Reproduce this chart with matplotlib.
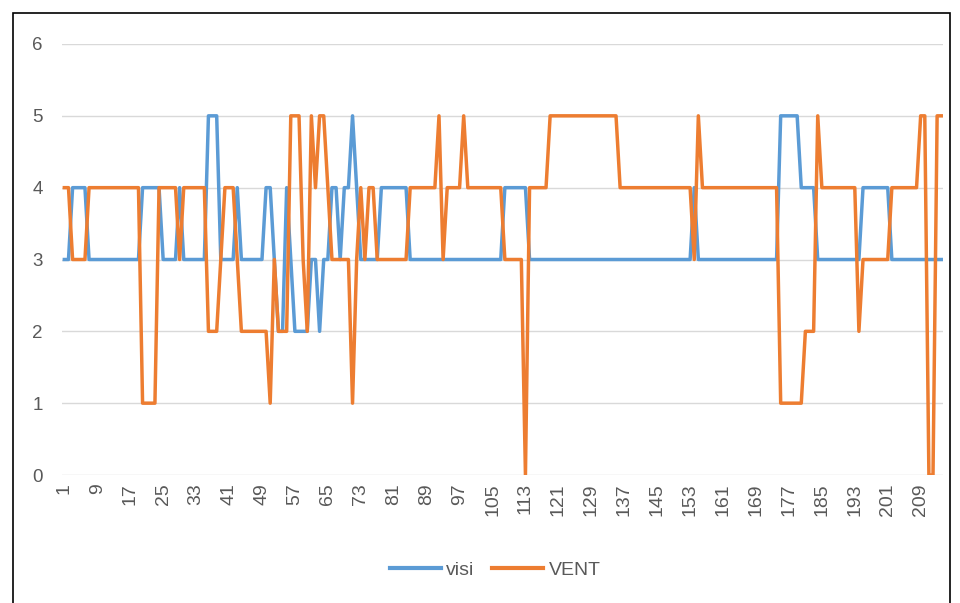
import matplotlib.pyplot as plt
from matplotlib.patches import Rectangle

visi = [3, 3, 4, 4, 4, 4, 3, 3, 3, 3,
        3, 3, 3, 3, 3, 3, 3, 3, 3, 4,
        4, 4, 4, 4, 3, 3, 3, 3, 4, 3,
        3, 3, 3, 3, 3, 5, 5, 5, 3, 3,
        3, 3, 4, 3, 3, 3, 3, 3, 3, 4,
        4, 3, 2, 2, 4, 3, 2, 2, 2, 2,
        3, 3, 2, 3, 3, 4, 4, 3, 4, 4,
        5, 4, 3, 3, 3, 3, 3, 4, 4, 4,
        4, 4, 4, 4, 3, 3, 3, 3, 3, 3,
        3, 3, 3, 3, 3, 3, 3, 3, 3, 3,
        3, 3, 3, 3, 3, 3, 3, 4, 4, 4,
        4, 4, 4, 3, 3, 3, 3, 3, 3, 3,
        3, 3, 3, 3, 3, 3, 3, 3, 3, 3,
        3, 3, 3, 3, 3, 3, 3, 3, 3, 3,
        3, 3, 3, 3, 3, 3, 3, 3, 3, 3,
        3, 3, 3, 4, 3, 3, 3, 3, 3, 3,
        3, 3, 3, 3, 3, 3, 3, 3, 3, 3,
        3, 3, 3, 3, 5, 5, 5, 5, 5, 4,
        4, 4, 4, 3, 3, 3, 3, 3, 3, 3,
        3, 3, 3, 3, 4, 4, 4, 4, 4, 4,
        4, 3, 3, 3, 3, 3, 3, 3, 3, 3,
        3, 3, 3, 3]

vent = [4, 4, 3, 3, 3, 3, 4, 4, 4, 4,
        4, 4, 4, 4, 4, 4, 4, 4, 4, 1,
        1, 1, 1, 4, 4, 4, 4, 4, 3, 4,
        4, 4, 4, 4, 4, 2, 2, 2, 3, 4,
        4, 4, 3, 2, 2, 2, 2, 2, 2, 2,
        1, 3, 2, 2, 2, 5, 5, 5, 3, 2,
        5, 4, 5, 5, 4, 3, 3, 3, 3, 3,
        1, 3, 4, 3, 4, 4, 3, 3, 3, 3,
        3, 3, 3, 3, 4, 4, 4, 4, 4, 4,
        4, 5, 3, 4, 4, 4, 4, 5, 4, 4,
        4, 4, 4, 4, 4, 4, 4, 3, 3, 3,
        3, 3, 0, 4, 4, 4, 4, 4, 5, 5,
        5, 5, 5, 5, 5, 5, 5, 5, 5, 5,
        5, 5, 5, 5, 5, 4, 4, 4, 4, 4,
        4, 4, 4, 4, 4, 4, 4, 4, 4, 4,
        4, 4, 4, 3, 5, 4, 4, 4, 4, 4,
        4, 4, 4, 4, 4, 4, 4, 4, 4, 4,
        4, 4, 4, 4, 1, 1, 1, 1, 1, 1,
        2, 2, 2, 5, 4, 4, 4, 4, 4, 4,
        4, 4, 4, 2, 3, 3, 3, 3, 3, 3,
        3, 4, 4, 4, 4, 4, 4, 4, 5, 5,
        0, 0, 5, 5]

x = list(range(1, len(visi) + 1))
tick_pos = list(range(1, len(visi) + 1, 8))
tick_labels = [str(t) for t in tick_pos]

plt.rcParams['font.family'] = ['Liberation Sans', 'DejaVu Sans']

fig = plt.figure(figsize=(9.6, 6.03), dpi=100)
ax = fig.add_axes([62.3 / 960, 1 - 475 / 603, 881 / 960, 431 / 603])

ax.plot(x, visi, color='#5B9BD5', linewidth=2.5, label='visi', solid_joinstyle='round')
ax.plot(x, vent, color='#ED7D31', linewidth=2.5, label='VENT', solid_joinstyle='round')

ax.set_xlim(0.5, len(visi) + 0.5)
ax.set_ylim(0, 6)
ax.set_yticks(range(0, 7))
ax.set_xticks(tick_pos)
ax.set_xticklabels(tick_labels, rotation=90)
ax.tick_params(axis='x', length=0, pad=6, labelsize=14, labelcolor='#595959')
ax.tick_params(axis='y', length=0, pad=14, labelsize=13.5, labelcolor='#595959')
ax.grid(axis='y', color='#D9D9D9', linewidth=1)
ax.set_axisbelow(True)
for s in ax.spines.values():
    s.set_visible(False)

leg = fig.legend(loc='center', bbox_to_anchor=(0.516, 0.055), ncol=2, frameon=False,
                 fontsize=14, handlelength=2.6, handletextpad=0.3, columnspacing=0.9,
                 labelcolor='#595959')
for line in leg.get_lines():
    line.set_linewidth(3)

# outer chart frame
fig.patches.append(Rectangle((13 / 960, -0.05), 937 / 960, 1.05 - 13 / 603,
                             transform=fig.transFigure, fill=False,
                             edgecolor='black', linewidth=1.2))

fig.savefig('out.png', dpi=100)
